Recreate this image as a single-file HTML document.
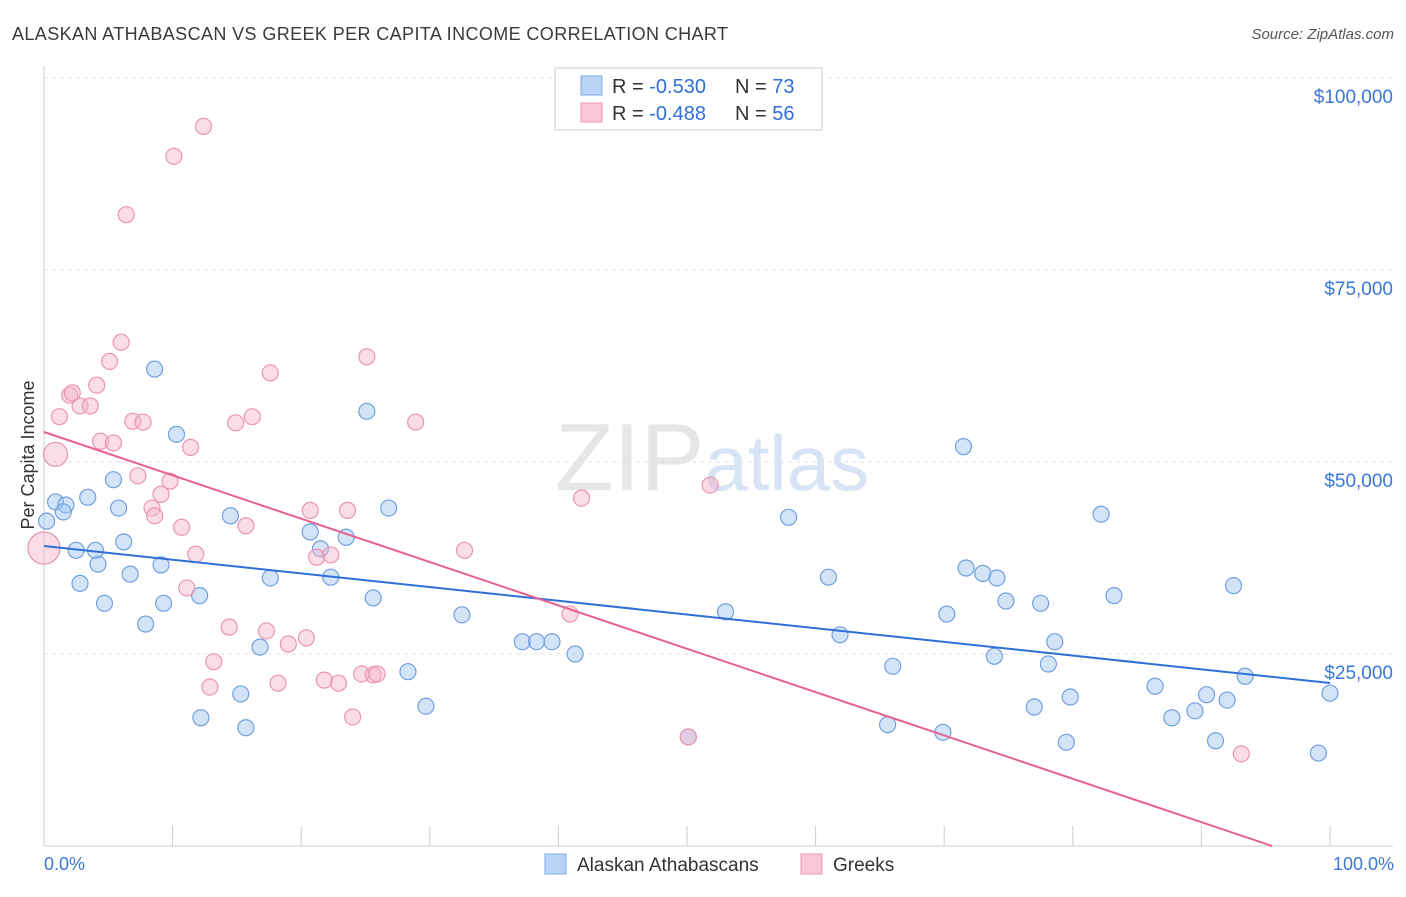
<!DOCTYPE html>
<html><head><meta charset="utf-8">
<style>
body{margin:0;background:#fff;font-family:"Liberation Sans",sans-serif;}
svg text{font-family:"Liberation Sans",sans-serif;}
</style></head>
<body>
<svg id="chart" width="1406" height="892" viewBox="0 0 1406 892" xmlns="http://www.w3.org/2000/svg">
<text x="12" y="40" font-size="18" fill="#3a3a3a" textLength="716">ALASKAN ATHABASCAN VS GREEK PER CAPITA INCOME CORRELATION CHART</text>
<text x="1394" y="39" font-size="15" fill="#555" font-style="italic" text-anchor="end">Source: ZipAtlas.com</text>
<text x="555" y="490" font-size="96" fill="#e6e6e6" font-family="Liberation Serif"><tspan>ZIP</tspan><tspan fill="#d6e4f5" font-family="Liberation Sans" font-size="78">atlas</tspan></text>
<g id="grid"></g>
<g id="axes"></g>
<g id="pts"></g>
<g id="lines"></g>
<text transform="translate(34,455) rotate(-90)" font-size="18" fill="#333" text-anchor="middle">Per Capita Income</text>
<text x="44" y="870" font-size="18" fill="#3a78d8">0.0%</text>
<text x="1394" y="870" font-size="18" fill="#3a78d8" text-anchor="end">100.0%</text>
<g>
<rect x="555" y="68" width="267" height="62" fill="#fff" stroke="#ccc"/>
<rect x="581" y="76" width="21" height="19" fill="#b8d3f5" stroke="#7aa8e6"/>
<rect x="581" y="103" width="21" height="19" fill="#f9c7d6" stroke="#eb9ab5"/>
<text x="612" y="93" font-size="20" fill="#333">R = <tspan fill="#2f6fd6">-0.530</tspan></text>
<text x="735" y="93" font-size="20" fill="#333">N = <tspan fill="#2f6fd6">73</tspan></text>
<text x="612" y="120" font-size="20" fill="#333">R = <tspan fill="#2f6fd6">-0.488</tspan></text>
<text x="735" y="120" font-size="20" fill="#333">N = <tspan fill="#2f6fd6">56</tspan></text>
</g>
<g>
<rect x="545" y="854" width="21" height="20" fill="#b8d3f5" stroke="#7aa8e6"/>
<text x="577" y="871" font-size="19" fill="#333">Alaskan Athabascans</text>
<rect x="801" y="854" width="21" height="20" fill="#f9c7d6" stroke="#eb9ab5"/>
<text x="833" y="871" font-size="19" fill="#333">Greeks</text>
</g>
</svg>
<script>
const yTicks=[25000,50000,75000,100000];
const yTickLabels=["$25,000","$50,000","$75,000","$100,000"];
const blueX=[0.2,0.9,1.7,1.5,2.5,2.8,3.4,4.2,4.0,4.7,5.4,5.8,6.2,6.7,7.9,8.6,9.1,9.3,10.3,12.1,12.2,14.5,15.3,15.7,16.8,17.6,20.7,21.5,22.3,23.5,25.1,25.6,26.8,28.3,29.7,32.5,37.2,38.3,39.5,41.3,50.1,53.0,57.9,61.0,61.9,65.6,66.0,69.9,70.2,71.5,71.7,73.0,74.1,73.9,74.8,77.0,77.5,78.1,78.6,79.5,79.8,82.2,83.2,86.4,87.7,89.5,90.4,91.1,92.0,92.5,93.4,99.1,100];
const blueY=[42300,44800,44400,43500,38500,34200,45400,36700,38500,31600,47700,44000,39600,35400,28900,62100,36600,31600,53600,32600,16700,43000,19800,15400,25900,34900,40900,38700,35000,40200,56600,32300,44000,22700,18200,30100,26600,26600,26600,25000,14200,30500,42800,35000,27500,15800,23400,14800,30200,52000,36200,35500,34900,24700,31900,18100,31600,23700,26600,13500,19400,43200,32600,20800,16700,17600,19700,13700,19000,33900,22100,12100,19900];
const pinkX=[0,0.9,1.2,2.0,2.2,2.8,3.6,4.1,4.4,5.1,5.4,6.0,6.4,6.9,7.3,7.7,8.4,8.6,9.1,9.8,10.1,10.7,11.1,11.4,11.8,12.4,12.9,13.2,14.4,14.9,15.7,16.2,17.3,17.6,18.2,19.0,20.4,20.7,21.2,21.8,22.3,22.9,23.6,24.0,24.7,25.1,25.6,25.9,28.9,32.7,40.9,41.8,50.1,51.8,93.1];
const pinkY=[38800,51000,55900,58700,59000,57300,57300,60000,52700,63100,52500,65600,82200,55300,48200,55200,44000,43000,45800,47500,89800,41500,33600,51900,38000,93700,20700,24000,28500,55100,41700,55900,28000,61600,21200,26300,27100,43700,37600,21600,37900,21200,43700,16800,22400,63700,22300,22400,55200,38500,30200,45300,14200,47000,12000];
const blueTrend=[39063,21224];
const pinkTrend=[53906,-2540];
const X=p=>44+p*12.86, Y=v=>846-v/25000*192;
const NS="http://www.w3.org/2000/svg";
function mk(tag,attrs,parent){const e=document.createElementNS(NS,tag);for(const k in attrs)e.setAttribute(k,attrs[k]);parent.appendChild(e);return e;}
const grid=document.getElementById('grid'),axes=document.getElementById('axes'),pts=document.getElementById('pts'),lines=document.getElementById('lines');
yTicks.forEach((t,i)=>{
 const g=mk('line',{x1:44,x2:1393,y1:Y(t),y2:Y(t),stroke:'#e2e2e2','stroke-dasharray':'4,4'},grid);
 
 
 const l=mk('text',{x:1393,y:Y(t)+25,'font-size':19,fill:'#3a78d8','text-anchor':'end'},axes);
 l.textContent=yTickLabels[i];
 
 
});
const tg=mk('line',{x1:44,x2:1393,y1:78,y2:78,stroke:'#e2e2e2','stroke-dasharray':'4,4'},grid);


const ya=mk('line',{x1:44,x2:44,y1:66,y2:846,stroke:'#ccc'},axes);


const xa=mk('line',{x1:44,x2:1393,y1:846,y2:846,stroke:'#ccc'},axes);


for(let i=1;i<=10;i++){const t=mk('line',{x1:X(i*10),x2:X(i*10),y1:826,y2:846,stroke:'#ccc'},axes);
 
 }
blueX.forEach((x,i)=>{const c=mk('circle',{cx:X(x),cy:Y(blueY[i]),r:8,fill:'rgba(160,196,240,0.45)',stroke:'#6fa0e0','stroke-width':1.2},pts);
 
 });
pinkX.forEach((x,i)=>{const r=i==0?16:(i==1?12:8);const c=mk('circle',{cx:X(x),cy:Y(pinkY[i]),r:r,fill:'rgba(245,180,202,0.45)',stroke:'#eb94b2','stroke-width':1.2},pts);
 
 });
const bl=mk('line',{x1:X(0),y1:Y(blueTrend[0]),x2:X(100),y2:Y(blueTrend[1]),stroke:'#2f6fd6','stroke-width':2},lines);


let px2=100,py2=pinkTrend[1];
if(py2<0){px2=100*pinkTrend[0]/(pinkTrend[0]-pinkTrend[1]);py2=0;}
const pl=mk('line',{x1:X(0),y1:Y(pinkTrend[0]),x2:X(px2),y2:Y(py2),stroke:'#e8608e','stroke-width':2},lines);


</script>
</body></html>
